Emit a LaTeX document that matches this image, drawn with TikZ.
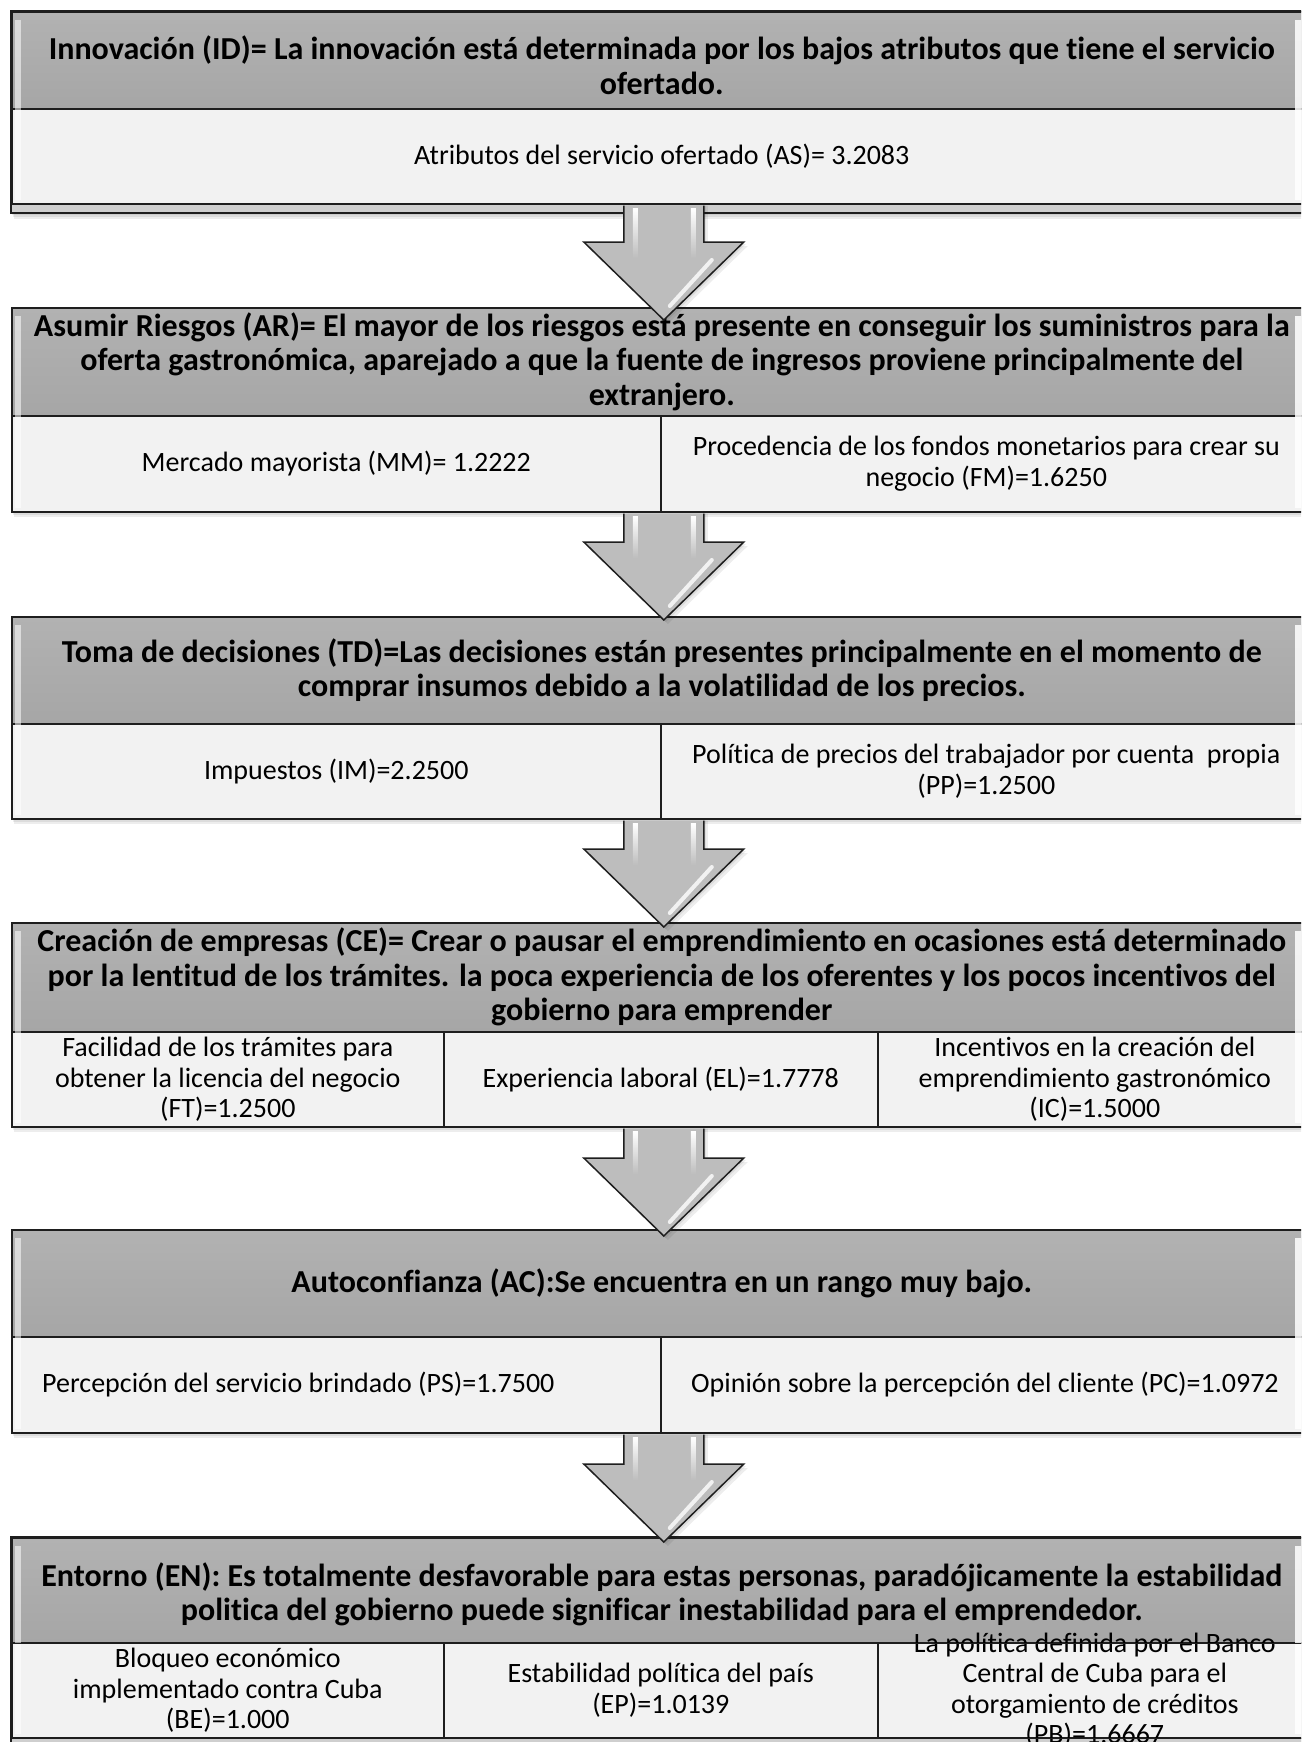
\documentclass[tikz,border=0pt]{standalone}
\usepackage{fontspec}
\setmainfont{Carlito}[Ligatures=NoCommon]
\usetikzlibrary{calc}

\definecolor{edge}{HTML}{1E1E1E}
\definecolor{headtop}{HTML}{B2B2B2}
\definecolor{headbot}{HTML}{A6A6A6}
\definecolor{rowfill}{HTML}{F2F2F2}
\definecolor{bandgray}{HTML}{CFCFCF}
\definecolor{arrowgray}{HTML}{BDBDBD}

\tikzset{
  headbox/.style={draw=edge, line width=1.6pt, top color=headtop, bottom color=headbot,
    anchor=north west, inner sep=0pt, align=center, text=black,
    font=\fontsize{32}{34.5}\selectfont\bfseries},
  headtext/.style={inner sep=0pt, align=center, text=black,
    font=\fontsize{32}{34.5}\selectfont\bfseries},
  cellbox/.style={draw=edge, line width=1.6pt, fill=rowfill,
    anchor=north west, inner sep=0pt, align=center, text=black,
    font=\fontsize{28}{30.5}\selectfont},
  celltext/.style={inner sep=0pt, align=center, text=black,
    font=\fontsize{28}{30.5}\selectfont},
  framebox/.style={draw=edge, line width=1.6pt, fill=bandgray},
  arrowline/.style={draw=edge, line width=1.5pt, line join=miter},
  softshade/.style={fill=black, opacity=0.07},
}

% Soft shadow beneath a block: #1 top, #2 bottom
\newcommand\blockshadow[2]{%
  \foreach \d in {2,4,6}{\fill[softshade] (11+\d/2,#1+\d) rectangle (1315,#2+\d);}%
}
% Bevel highlights on the left and right rims of a block: #1 top, #2 bottom
\newcommand\bevelrims[2]{%
  \fill[white, opacity=0.55] (15,#1+9) rectangle (21,#2-3);
  \fill[white, opacity=0.85] (1295,#1+9) rectangle (1305,#2-3);
}
% Down arrow from coordinate #1 (shaft start) to coordinate #2 (tip)
\newcommand\flowarrow[2]{%
  \foreach \d in {2,4}{\fill[softshade] ($(#1)+(-40+\d,0)$) -- ($(#2)+(-40+\d,-78+\d)$) -- ($(#2)+(-80+\d,-78+\d)$) -- ($(#2)+(\d,\d)$) -- ($(#2)+(80+\d,-78+\d)$) -- ($(#2)+(40+\d,-78+\d)$) -- ($(#1)+(40+\d,0)$) -- cycle;}
  \fill[arrowgray] ($(#1)+(-40,0)$) -- ($(#2)+(-40,-78)$) -- ($(#2)+(-80,-78)$) -- (#2)
    -- ($(#2)+(80,-78)$) -- ($(#2)+(40,-78)$) -- ($(#1)+(40,0)$) -- cycle;
  \shade[top color=white, bottom color=arrowgray] ($(#1)+(-31,3)$) rectangle ($(#2)+(-26,-62)$);
  \shade[top color=white, bottom color=arrowgray] ($(#1)+(27,3)$) rectangle ($(#2)+(32,-62)$);
  \draw[white, opacity=0.8, line width=4pt, line cap=round] ($(#2)+(48,-60)$) -- ($(#2)+(6,-14)$);
  \draw[arrowline] ($(#1)+(-40,0)$) -- ($(#2)+(-40,-78)$) -- ($(#2)+(-80,-78)$) -- (#2)
    -- ($(#2)+(80,-78)$) -- ($(#2)+(40,-78)$) -- ($(#1)+(40,0)$);
}

\begin{document}
\begin{tikzpicture}[x=1pt, y=-1pt]
\useasboundingbox (0,0) rectangle (1301,1742);
\clip (0,0) rectangle (1301,1742);
\fill[white] (0,0) rectangle (1301,1742);

% ---------- Innovación ----------
\blockshadow{11}{213}
\path[framebox] (11,11) rectangle (1311,213);
\node[headbox, minimum width=1300pt, minimum height=97pt] (h1) at (11,11) {};
\node[headtext] (t1) at ($(h1.center)+(0,5)$)
  {Innovación (ID)= La innovación está determinada por los bajos atributos que tiene el servicio\\ofertado.};
\node[cellbox, minimum width=1300pt, minimum height=95pt] (c11) at (11,108)
  {Atributos del servicio ofertado (AS)= 3.2083};
\bevelrims{11}{203}

% ---------- Asumir riesgos ----------
\blockshadow{307}{511}
\node[headbox, minimum width=1300pt, minimum height=108pt] (h2) at (11,307)
  {Asumir Riesgos (AR)= El mayor de los riesgos está presente en conseguir los suministros para la\\
   oferta gastronómica, aparejado a que la fuente de ingresos proviene principalmente del\\extranjero.};
\node[cellbox, minimum width=649pt, minimum height=96pt] (c21) at (11,415)
  {Mercado mayorista (MM)= 1.2222};
\node[cellbox, minimum width=651pt, minimum height=96pt] (c22) at (660,415)
  {Procedencia de los fondos monetarios para crear su\\negocio (FM)=1.6250};
\bevelrims{307}{511}

% ---------- Toma de decisiones ----------
\blockshadow{616}{818}
\node[headbox, minimum width=1300pt, minimum height=107pt] (h3) at (11,616)
  {Toma de decisiones (TD)=Las decisiones están presentes principalmente en el momento de\\
   comprar insumos debido a la volatilidad de los precios.};
\node[cellbox, minimum width=649pt, minimum height=95pt] (c31) at (11,723)
  {Impuestos (IM)=2.2500};
\node[cellbox, minimum width=651pt, minimum height=95pt] (c32) at (660,723)
  {Política de precios del trabajador por cuenta~ propia\\(PP)=1.2500};
\bevelrims{616}{818}

% ---------- Creación de empresas ----------
\blockshadow{922}{1126}
\node[headbox, minimum width=1300pt, minimum height=109pt] (h4) at (11,922)
  {Creación de empresas (CE)= Crear o pausar el emprendimiento en ocasiones está determinado\\
   por la lentitud de los trámites. la poca experiencia de los oferentes y los pocos incentivos del\\
   gobierno para emprender};
\node[cellbox, minimum width=432pt, minimum height=95pt] (c41) at (11,1031)
  {Facilidad de los trámites para\\obtener la licencia del negocio\\(FT)=1.2500};
\node[cellbox, minimum width=434pt, minimum height=95pt] (c42) at (443,1031)
  {Experiencia laboral (EL)=1.7778};
\node[cellbox, minimum width=434pt, minimum height=95pt] (c43) at (877,1031)
  {Incentivos en la creación del\\emprendimiento gastronómico\\(IC)=1.5000};
\bevelrims{922}{1126}

% ---------- Autoconfianza ----------
\blockshadow{1229}{1432}
\node[headbox, minimum width=1300pt, minimum height=107pt] (h5) at (11,1229)
  {Autoconfianza (AC):Se encuentra en un rango muy bajo.};
\node[cellbox, minimum width=649pt, minimum height=96pt] (c51) at (11,1336) {};
\node[cellbox, minimum width=651pt, minimum height=96pt] (c52) at (660,1336) {};
\node[celltext, anchor=west] (t51) at ($(c51.west)+(31,0)$) {Percepción del servicio brindado (PS)=1.7500};
\node[celltext, anchor=west] (t52) at ($(c52.west)+(31,0)$) {Opinión sobre la percepción del cliente (PC)=1.0972};
\bevelrims{1229}{1432}

% ---------- Entorno ----------
\blockshadow{1537}{1745}
\path[framebox] (11,1537) rectangle (1311,1745);
\node[headbox, minimum width=1300pt, minimum height=105pt] (h6) at (11,1537) {};
\node[headtext] (t6) at ($(h6.center)+(0,4)$)
  {Entorno (EN): Es totalmente desfavorable para estas personas, paradójicamente la estabilidad\\
   politica del gobierno puede significar inestabilidad para el emprendedor.};
\node[cellbox, minimum width=432pt, minimum height=95pt] (c61) at (11,1642)
  {Bloqueo económico\\implementado contra Cuba\\(BE)=1.000};
\node[cellbox, minimum width=434pt, minimum height=95pt] (c62) at (443,1642)
  {Estabilidad política del país\\(EP)=1.0139};
\node[cellbox, minimum width=434pt, minimum height=95pt] (c63) at (877,1642) {};
\node[celltext] (t63) at (c63.center)
  {La política definida por el Banco\\Central de Cuba para el\\otorgamiento de créditos\\(PB)=1.6667};
\bevelrims{1537}{1737}
% rules of the last block run across its overflowing text
\draw[edge, line width=1.6pt] (h6.south west) -- (h6.south east);
\draw[edge, line width=1.6pt] (c61.south west) -- (c63.south east);

% ---------- Arrows between the blocks ----------
\coordinate (s1) at ($(c11.south)+(2,1)$);  \coordinate (e1) at ($(h2.north)+(2,13)$);
\coordinate (s2) at ($(c21.south -| h2.south)+(2,1)$); \coordinate (e2) at ($(h3.north)+(2,4)$);
\coordinate (s3) at ($(c31.south -| h3.south)+(2,1)$); \coordinate (e3) at ($(h4.north)+(2,5)$);
\coordinate (s4) at ($(c41.south -| h4.south)+(2,1)$); \coordinate (e4) at ($(h5.north)+(2,7)$);
\coordinate (s5) at ($(c51.south -| h5.south)+(2,1)$); \coordinate (e5) at ($(h6.north)+(2,5)$);
\flowarrow{s1}{e1}
\flowarrow{s2}{e2}
\flowarrow{s3}{e3}
\flowarrow{s4}{e4}
\flowarrow{s5}{e5}
\end{tikzpicture}
\end{document}
